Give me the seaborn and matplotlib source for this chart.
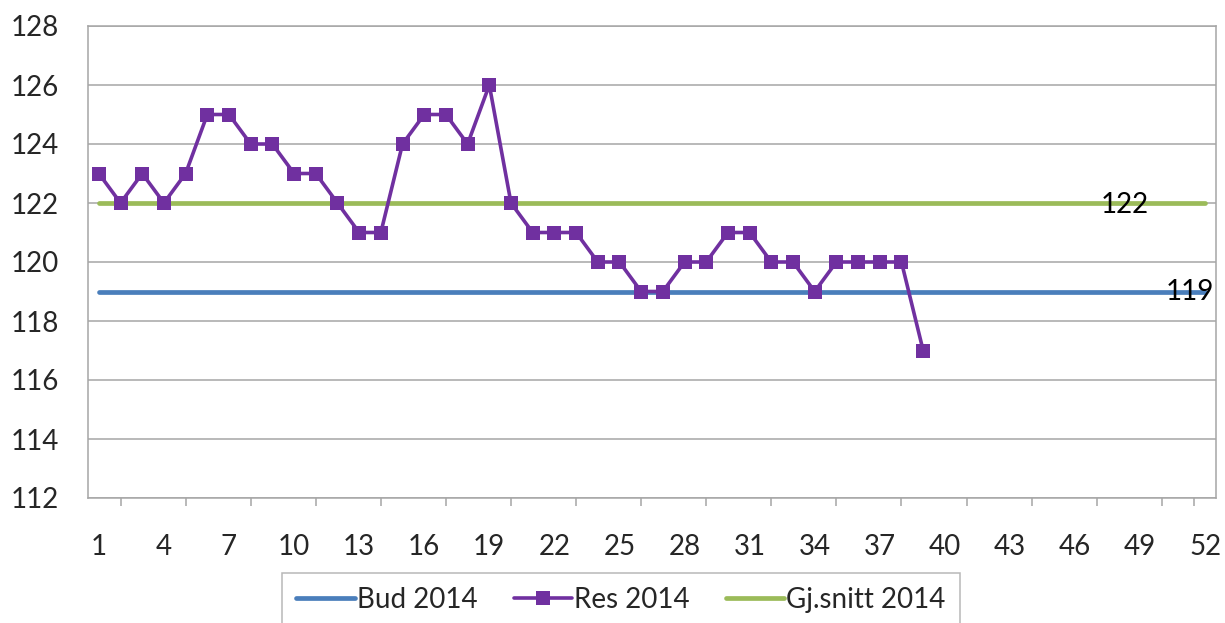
import matplotlib
matplotlib.use("Agg")
import matplotlib.pyplot as plt
import seaborn as sns
import pandas as pd
import numpy as np

weeks = list(range(1, 53))
res_2014 = [123, 122, 123, 122, 123, 125, 125, 124, 124, 123, 123, 122, 121, 121,
            124, 125, 125, 124, 126, 122, 121, 121, 121, 120, 120, 119, 119, 120,
            120, 121, 121, 120, 120, 119, 120, 120, 120, 120, 117]
bud_value = 119
snitt_value = 122
bud_2014 = [bud_value] * len(weeks)
snitt_2014 = [snitt_value] * len(weeks)
y_ticks = [112, 114, 116, 118, 120, 122, 124, 126, 128]
x_labels = weeks[::3]

sns.set_theme(style="white")
plt.rcParams['font.family'] = ['Lato', 'DejaVu Sans']

fig = plt.figure(figsize=(12.25, 6.23), dpi=100)
ax = fig.add_axes([88/1225, 1-498/623, (1216-88)/1225, (498-26)/623])

df_bud = pd.DataFrame({"week": weeks, "value": bud_2014})
df_snitt = pd.DataFrame({"week": weeks, "value": snitt_2014})
df_res = pd.DataFrame({"week": weeks[:len(res_2014)], "value": res_2014})

gcol = "#a6a6a6"
for yv in y_ticks:
    ax.axhline(yv, color=gcol, lw=1.1, zorder=0)

sns.lineplot(data=df_bud, x="week", y="value", ax=ax, color="#4A7EBB", lw=3.4,
             label="Bud 2014", zorder=2)
sns.lineplot(data=df_res, x="week", y="value", ax=ax, color="#7030A0", lw=2.6,
             marker="s", markersize=10.5, markeredgewidth=0, label="Res 2014", zorder=3)
sns.lineplot(data=df_snitt, x="week", y="value", ax=ax, color="#9BBB59", lw=3.4,
             label="Gj.snitt 2014", zorder=2)

ax.text(48.3, snitt_value - 0.08, str(snitt_value), ha="center", va="center", fontsize=20, color="black", zorder=4)
ax.text(51.3, bud_value, str(bud_value), ha="center", va="center", fontsize=20, color="black", zorder=4)

ax.set_xlim(0.5, 52.5)
ax.set_ylim(112, 128)
ax.set_yticks(y_ticks)
ax.set_yticklabels([str(v) for v in y_ticks])
ax.set_xticks(x_labels)
ax.set_xticklabels([str(v) for v in x_labels])
ax.set_xticks(list(range(2, 51, 3)) + [51.5], minor=True)
ax.tick_params(axis="x", which="major", length=0, pad=26, labelsize=20)
ax.tick_params(axis="x", which="minor", length=6, width=1.1, color=gcol, direction="out", bottom=True)
ax.tick_params(axis="y", length=0, pad=21, labelsize=20)
ax.set_xlabel("")
ax.set_ylabel("")

for s in ax.spines.values():
    s.set_color(gcol)
    s.set_linewidth(1.1)

leg = ax.legend(loc="upper center", bbox_to_anchor=(621/1225, 1-573/623),
                bbox_transform=fig.transFigure, ncol=3, frameon=True, fontsize=20,
                handlelength=2.1, handletextpad=0.08, columnspacing=1.3,
                borderpad=0.5, borderaxespad=0, fancybox=False)
leg.get_frame().set_edgecolor(gcol)
leg.get_frame().set_linewidth(1.1)

fig.savefig("out.png", dpi=100)
